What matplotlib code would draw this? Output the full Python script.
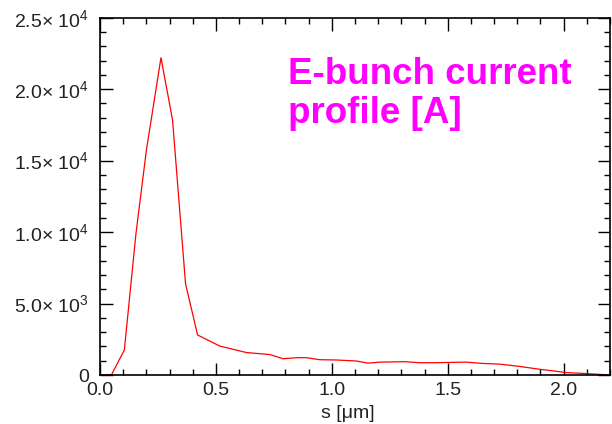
import matplotlib
matplotlib.use("Agg")
import matplotlib.pyplot as plt
from matplotlib.ticker import MultipleLocator

plt.rcParams['font.family'] = ['Liberation Sans', 'DejaVu Sans']
plt.rcParams['mathtext.fontset'] = 'custom'
plt.rcParams['mathtext.rm'] = 'Liberation Sans'
plt.rcParams['mathtext.it'] = 'Liberation Sans:italic'
plt.rcParams['mathtext.bf'] = 'Liberation Sans:bold'

# Data
s_um = [0.0, 0.05, 0.105, 0.155, 0.20, 0.263, 0.313, 0.369, 0.421, 0.517,
        0.632, 0.733, 0.790, 0.848, 0.89, 0.948, 1.02, 1.106, 1.156, 1.207,
        1.314, 1.379, 1.437, 1.509, 1.580, 1.652, 1.724, 1.810, 1.897, 1.954,
        2.011, 2.098, 2.2]
current_A = [0, 30, 1750, 9880, 15720, 22200, 17830, 6380, 2800, 2020,
             1570, 1430, 1140, 1210, 1210, 1070, 1050, 980, 830, 900,
             930, 860, 860, 880, 900, 810, 760, 600, 400, 290,
             170, 100, 0]

title_text = "E-bunch current\nprofile [A]"
x_label = "s [\u03bcm]"
y_tick_values = [0, 5000, 10000, 15000, 20000, 25000]
y_tick_labels = ["0", "5.0\u00d7 10$^{3}$", "1.0\u00d7 10$^{4}$", "1.5\u00d7 10$^{4}$",
                 "2.0\u00d7 10$^{4}$", "2.5\u00d7 10$^{4}$"]
x_tick_values = [0.0, 0.5, 1.0, 1.5, 2.0]
x_tick_labels = ["0.0", "0.5", "1.0", "1.5", "2.0"]

fig = plt.figure(figsize=(6.12, 4.24), dpi=100)
ax = fig.add_axes([100/612, 1 - 375/424, 510/612, (375-17.7)/424])

ax.plot(s_um, current_A, color='#ff0000', lw=0.9)

ax.set_xlim(0, 2.2)
ax.set_ylim(0, 25000)

ax.set_xticks(x_tick_values)
ax.set_xticklabels(x_tick_labels)
ax.set_yticks(y_tick_values)
ax.set_yticklabels(y_tick_labels)
ax.xaxis.set_minor_locator(MultipleLocator(0.1))
ax.yaxis.set_minor_locator(MultipleLocator(1000))

ax.tick_params(which='both', direction='in', top=True, right=True,
               color='black', width=1.0, labelsize=14, labelcolor='#222222')
ax.tick_params(which='major', length=9)
ax.tick_params(which='minor', length=4.5)
ax.tick_params(axis='x', which='major', pad=5)
ax.tick_params(axis='y', which='major', pad=8)
for sp in ax.spines.values():
    sp.set_linewidth(1.2)

ax.set_xlabel(x_label, fontsize=14, color='#222222')
ax.xaxis.set_label_coords(0.486, -0.085)

ax.text(0.369, 0.891, title_text, transform=ax.transAxes, color='#ff00ff',
        fontsize=26.5, fontweight='bold', ha='left', va='top', linespacing=1.17)

fig.savefig("out.png", dpi=100)
